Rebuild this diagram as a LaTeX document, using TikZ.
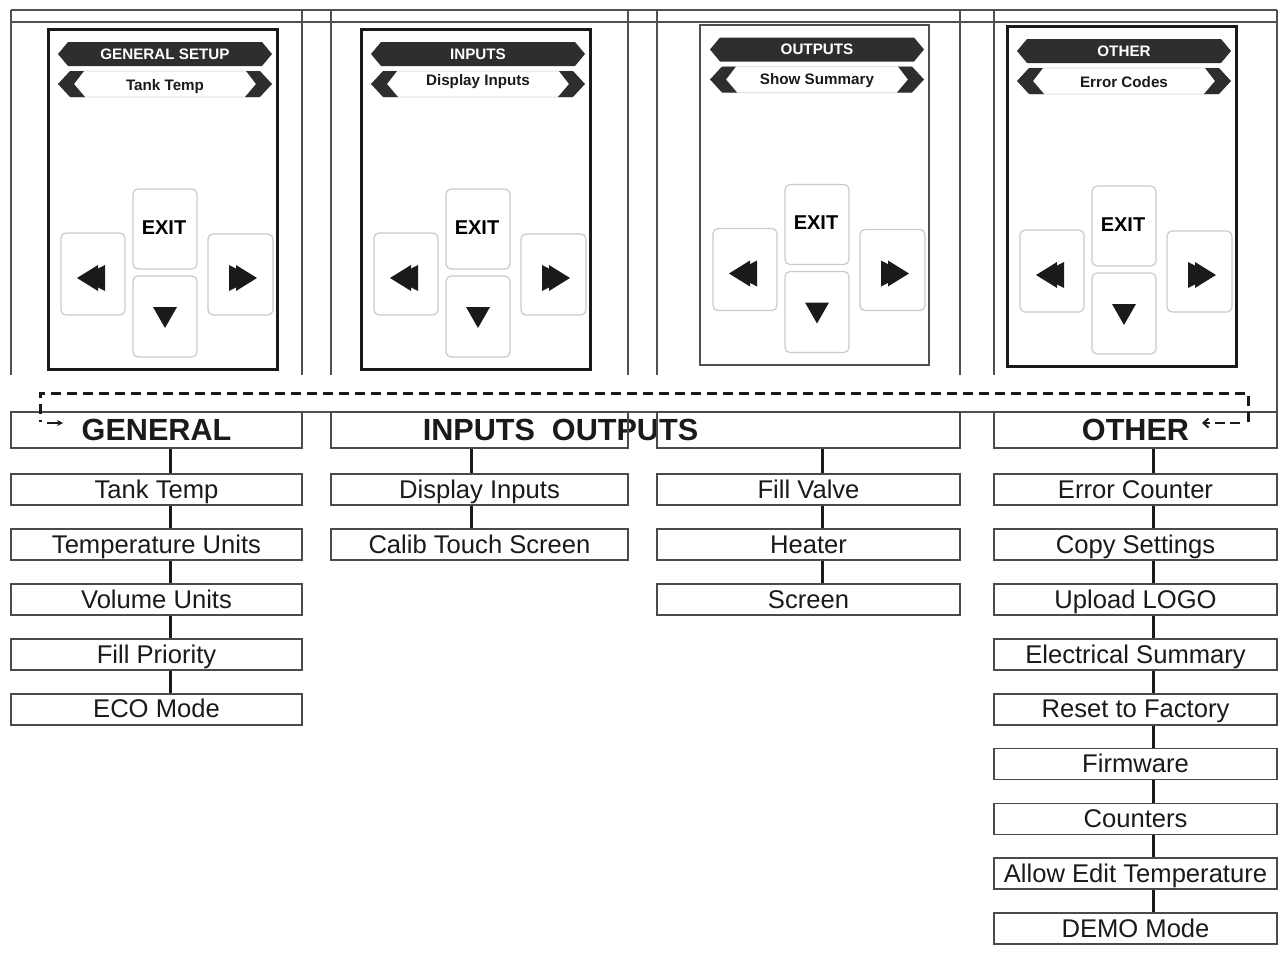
\documentclass[tikz,border=0pt]{standalone}
\usepackage{fontspec}
\setmainfont{Liberation Sans}
\usetikzlibrary{arrows.meta}
\definecolor{ink}{HTML}{1A1A1A}
\definecolor{boxline}{HTML}{4A4A4A}
\definecolor{tabline}{HTML}{505050}
\definecolor{bandark}{HTML}{2E2E2E}
\definecolor{btnline}{HTML}{CACACA}
\definecolor{bandline}{HTML}{E2E2E2}

\tikzset{
 tabl/.style={draw=tabline, line width=1.5pt},
 item/.style={draw=boxline, line width=1.8pt, fill=white, rectangle, inner sep=0pt,
   minimum height=31pt, text height=17.6pt, text depth=0pt,
   font=\fontsize{25.6}{25.6}\selectfont, text=ink},
 hdr/.style={draw=boxline, line width=1.8pt, rectangle, inner sep=0pt, minimum height=36pt,
   text height=21pt, text depth=0pt, font=\fontsize{30.6}{30.6}\selectfont\bfseries, text=ink},
 hdrtext/.style={font=\fontsize{30.6}{30.6}\selectfont\bfseries, text=ink, inner sep=0pt,
   text height=21pt, text depth=0pt},
 conn/.style={draw=ink, line width=3pt},
 frameA/.style={draw=ink, line width=3pt},
 frameB/.style={draw=tabline, line width=2pt},
 banner/.style={fill=bandark},
 bantext/.style={font=\fontsize{15.2}{15.2}\selectfont\bfseries, text=white, inner sep=0pt,
   text height=10.5pt, text depth=0pt},
 subtext/.style={font=\fontsize{15.2}{15.2}\selectfont\bfseries, text=ink, inner sep=0pt,
   text height=10.5pt, text depth=0pt},
 btn/.style={draw=btnline, line width=1.2pt, fill=white, rounded corners=5pt},
 exittext/.style={font=\fontsize{20}{20}\selectfont\bfseries, text=black, inner sep=0pt,
   text height=14pt, text depth=0pt},
 tri/.style={fill=ink},
 loopline/.style={draw=ink, line width=3pt, dash pattern=on 10pt off 6pt},
}

\newcommand{\uipanel}[7]{%
\begin{scope}[shift={(#1,#2)}]
 \draw[#5] (48,29) rectangle (277,369);
 \path[banner] (58,54) -- (68,42) -- (262,42) -- (272,54) -- (262,66) -- (68,66) -- cycle;
 \node[bantext] (#6t) at (165,54) {#3};
 \draw[draw=bandline, line width=1pt] (62,84) -- (72,71) -- (258,71) -- (268,84) -- (258,97) -- (72,97) -- cycle;
 \fill[bandark] (70,71) -- (84,71) -- (74,84) -- (85,97) -- (70,97) -- (58,84) -- cycle;
 \fill[bandark] (260,71) -- (246,71) -- (256,84) -- (245,97) -- (260,97) -- (272,84) -- cycle;
 \node[subtext] (#6s) at (165,#7) {#4};
 \draw[btn] (133,189) rectangle (197,269);
 \draw[btn] (133,276) rectangle (197,357);
 \draw[btn] (61,233) rectangle (125,315);
 \draw[btn] (208,234) rectangle (273,315);
 \node[exittext] (#6e) at (164,227) {EXIT};
 \fill[tri] (77,278) -- (98,265) -- (98,291) -- cycle;
 \fill[tri] (80,278) -- (105,265) -- (105,291) -- cycle;
 \fill[tri] (257,278) -- (236,265) -- (236,291) -- cycle;
 \fill[tri] (254,278) -- (229,265) -- (229,291) -- cycle;
 \fill[tri] (153,307) -- (177,307) -- (165,328) -- cycle;
\end{scope}}

\begin{document}
\begin{tikzpicture}[x=1pt,y=-1pt]
\useasboundingbox (0,0) rectangle (1282,954);
\fill[white] (0,0) rectangle (1282,954);

% table at the top
\draw[tabl] (11,10) -- (1277,10);
\draw[tabl] (11,22) -- (1277,22);
\foreach \x in {11,302,331,628,657,960,994} \draw[tabl] (\x,10) -- (\x,375);
\draw[tabl] (1277,10) -- (1277,412);
\draw[tabl] (11,412) -- (1277,412);

% screen panels
\uipanel{0}{0}{GENERAL SETUP}{Tank Temp}{frameA}{pg}{85}
\uipanel{313}{0}{INPUTS}{Display Inputs}{frameA}{pi}{80}
\uipanel{652}{-4.5}{OUTPUTS}{Show Summary}{frameB}{po}{84}
\uipanel{959}{-3}{OTHER}{Error Codes}{frameA}{px}{85}

% header row
\node[hdrtext] (ioh) at (560.5,430) {INPUTS\ \ OUTPUTS};
\node[hdr, minimum width=291pt] (gh) at (156.5,430) {GENERAL};
\node[hdr, minimum width=297pt] (ih) at (479.5,430) {};
\node[hdr, minimum width=303pt] (oh) at (808.5,430) {};
\node[hdr, minimum width=283pt] (xh) at (1135.5,430) {OTHER};

% column connector positions
\coordinate (cg) at (170,460);
\coordinate (ci) at (471,460);
\coordinate (co) at (822,460);
\coordinate (cx) at (1153,460);

% items
\foreach \t [count=\i] in {Tank Temp, Temperature Units, Volume Units, Fill Priority, ECO Mode}
  \node[item, minimum width=291pt] (g\i) at (156.5,{489.5+54.9*(\i-1)}) {\t};
\foreach \t [count=\i] in {Display Inputs, Calib Touch Screen}
  \node[item, minimum width=297pt] (i\i) at (479.5,{489.5+54.9*(\i-1)}) {\t};
\foreach \t [count=\i] in {Fill Valve, Heater, Screen}
  \node[item, minimum width=303pt] (o\i) at (808.5,{489.5+54.9*(\i-1)}) {\t};
\foreach \t [count=\i] in {Error Counter, Copy Settings, Upload LOGO, Electrical Summary, Reset to Factory, Firmware, Counters, Allow Edit Temperature, DEMO Mode}
  \node[item, minimum width=283pt] (x\i) at (1135.5,{489.5+54.9*(\i-1)}) {\t};

% connectors
\draw[conn] (gh.south -| cg) -- (g1.north -| cg);
\foreach \a/\b in {1/2,2/3,3/4,4/5} \draw[conn] (g\a.south -| cg) -- (g\b.north -| cg);
\draw[conn] (ih.south -| ci) -- (i1.north -| ci);
\draw[conn] (i1.south -| ci) -- (i2.north -| ci);
\draw[conn] (oh.south -| co) -- (o1.north -| co);
\foreach \a/\b in {1/2,2/3} \draw[conn] (o\a.south -| co) -- (o\b.north -| co);
\draw[conn] (xh.south -| cx) -- (x1.north -| cx);
\foreach \a/\b in {1/2,2/3,3/4,4/5,5/6,6/7,7/8,8/9} \draw[conn] (x\a.south -| cx) -- (x\b.north -| cx);

% dashed return loop
\coordinate (lr) at (1248,422);
\coordinate (ll) at (40,422);
\coordinate (lrt) at (1202,423);
\coordinate (llt) at (63,423);
\draw[loopline] (lr) -- (1248,393) -- (40,393) -- (ll);
\draw[draw=ink, line width=1.6pt, -{Stealth[length=6pt,width=6pt]}] (47,423) -- (llt);
\draw[draw=ink, line width=2pt, dash pattern=on 10pt off 5pt, -{Straight Barb[length=5pt,width=9pt]}] (1240,423) -- (lrt);
\end{tikzpicture}
\end{document}
